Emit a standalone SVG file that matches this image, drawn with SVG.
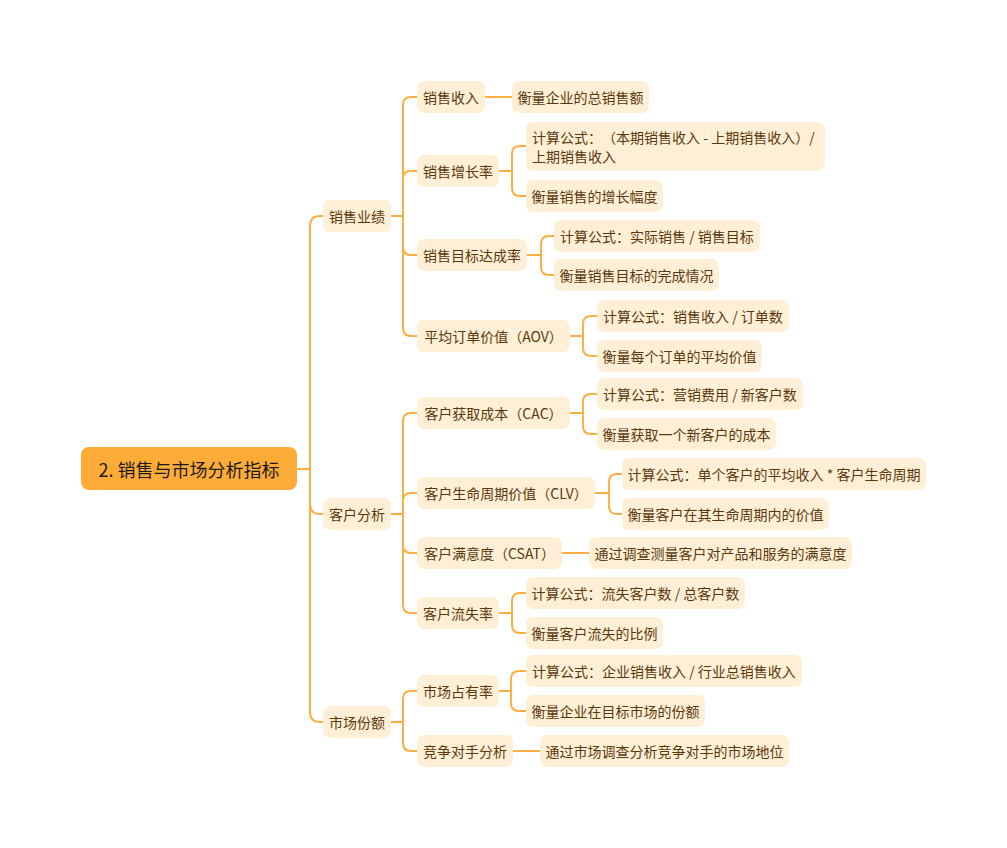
<svg xmlns="http://www.w3.org/2000/svg" width="1007" height="848" viewBox="0 0 1007 848">
<style>
.n rect{fill:#FFEFD6;}
.t{font-family:"Noto Sans CJK SC","Noto Sans",sans-serif;font-size:14px;fill:#5A380C;dominant-baseline:central;text-anchor:middle;text-spacing-trim:space-all;}
.tl{font-family:"Noto Sans CJK SC","Noto Sans",sans-serif;font-size:14px;fill:#5A380C;dominant-baseline:central;text-spacing-trim:space-all;}
.c path{stroke:#FFAE42;stroke-width:2;fill:none;stroke-linecap:round;}
</style>
<rect width="1007" height="848" fill="#ffffff"/>
<g class="c" id="connectors">
<path d="M297 469 H310 M310 469 V226 Q310 216 320 216 H324 M310 469 V504 Q310 514 320 514 H324 M310 469 V712 Q310 722 320 722 H324"/>
<path d="M391 216 H403 M403 216 V105 Q403 97 411 97 H417 M403 216 V179 Q403 171 411 171 H417 M403 216 V247 Q403 255 411 255 H417 M403 216 V328 Q403 336 411 336 H417"/>
<path d="M485 97 H512"/>
<path d="M499 171 H512 M512 171 V154 Q512 146 520 146 H526 M512 171 V188 Q512 196 520 196 H526"/>
<path d="M527 255 H541 M541 255 V244 Q541 236 549 236 H554 M541 255 V267 Q541 275 549 275 H554"/>
<path d="M570 336 H583 M583 336 V324 Q583 316 591 316 H597 M583 336 V348 Q583 356 591 356 H597"/>
<path d="M391 514 H403 M403 514 V421 Q403 413 411 413 H417 M403 514 V501 Q403 493 411 493 H417 M403 514 V545 Q403 553 411 553 H417 M403 514 V605 Q403 613 411 613 H417"/>
<path d="M570 413 H583 M583 413 V402 Q583 394 591 394 H597 M583 413 V426 Q583 434 591 434 H597"/>
<path d="M595 493 H609 M609 493 V482 Q609 474 617 474 H622 M609 493 V506 Q609 514 617 514 H622"/>
<path d="M562 553 H589"/>
<path d="M499 613 H512 M512 613 V601 Q512 593 520 593 H526 M512 613 V625 Q512 633 520 633 H526"/>
<path d="M391 722 H403 M403 722 V699 Q403 691 411 691 H417 M403 722 V743 Q403 751 411 751 H417"/>
<path d="M499 691 H511 M511 691 V679 Q511 671 519 671 H526 M511 691 V703 Q511 711 519 711 H526"/>
<path d="M513 751 H540"/>
</g>
<g id="root"><rect x="81" y="447" width="216" height="43" rx="8" fill="#FFAB38"/><text x="189" y="468.5" style="font-family:'Noto Sans CJK SC','Noto Sans',sans-serif;font-size:18px;fill:#1a1a1a;dominant-baseline:central;text-anchor:middle;">2. 销售与市场分析指标</text></g>
<g class="n" id="n1"><rect x="323" y="200" width="68" height="32" rx="7"/><text class="t" x="357" y="216">销售业绩</text></g>
<g class="n" id="n2"><rect x="323" y="498" width="68" height="32" rx="7"/><text class="t" x="357" y="514">客户分析</text></g>
<g class="n" id="n3"><rect x="323" y="706" width="68" height="32" rx="7"/><text class="t" x="357" y="722">市场份额</text></g>
<g class="n" id="n1a"><rect x="417" y="81" width="68" height="32" rx="7"/><text class="t" x="451" y="97">销售收入</text></g>
<g class="n" id="n1b"><rect x="417" y="155" width="82" height="32" rx="7"/><text class="t" x="458" y="171">销售增长率</text></g>
<g class="n" id="n1c"><rect x="417" y="239" width="110" height="32" rx="7"/><text class="t" x="472" y="255">销售目标达成率</text></g>
<g class="n" id="n1d"><rect x="417" y="320" width="153" height="32" rx="7"/><text class="t" x="493.5" y="336">平均订单价值（AOV）</text></g>
<g class="n" id="n2a"><rect x="417" y="397" width="153" height="32" rx="7"/><text class="t" x="493.5" y="413">客户获取成本（CAC）</text></g>
<g class="n" id="n2b"><rect x="417" y="477" width="178" height="32" rx="7"/><text class="t" x="506" y="493">客户生命周期价值（CLV）</text></g>
<g class="n" id="n2c"><rect x="417" y="537" width="145" height="32" rx="7"/><text class="t" x="489.5" y="553">客户满意度（CSAT）</text></g>
<g class="n" id="n2d"><rect x="417" y="597" width="82" height="32" rx="7"/><text class="t" x="458" y="613">客户流失率</text></g>
<g class="n" id="n3a"><rect x="417" y="675" width="82" height="32" rx="7"/><text class="t" x="458" y="691">市场占有率</text></g>
<g class="n" id="n3b"><rect x="417" y="735" width="96" height="32" rx="7"/><text class="t" x="465" y="751">竞争对手分析</text></g>
<g class="n" id="l1"><rect x="512" y="81" width="137" height="32" rx="7"/><text class="t" x="580.5" y="97">衡量企业的总销售额</text></g>
<g class="n" id="l2"><rect x="526" y="122" width="299" height="49" rx="7"/><text class="tl" x="532" y="137">计算公式：（本期销售收入 - 上期销售收入）/</text><text class="tl" x="532" y="156">上期销售收入</text></g>
<g class="n" id="l3"><rect x="526" y="180" width="137" height="32" rx="7"/><text class="t" x="594.5" y="196">衡量销售的增长幅度</text></g>
<g class="n" id="l4"><rect x="554" y="220" width="206" height="32" rx="7"/><text class="t" x="657" y="236">计算公式：实际销售 / 销售目标</text></g>
<g class="n" id="l5"><rect x="554" y="259" width="165" height="32" rx="7"/><text class="t" x="636.5" y="275">衡量销售目标的完成情况</text></g>
<g class="n" id="l6"><rect x="597" y="300" width="192" height="32" rx="7"/><text class="t" x="693" y="316">计算公式：销售收入 / 订单数</text></g>
<g class="n" id="l7"><rect x="597" y="340" width="165" height="32" rx="7"/><text class="t" x="679.5" y="356">衡量每个订单的平均价值</text></g>
<g class="n" id="l8"><rect x="597" y="378" width="206" height="32" rx="7"/><text class="t" x="700" y="394">计算公式：营销费用 / 新客户数</text></g>
<g class="n" id="l9"><rect x="597" y="418" width="179" height="32" rx="7"/><text class="t" x="686.5" y="434">衡量获取一个新客户的成本</text></g>
<g class="n" id="l10"><rect x="622" y="458" width="304" height="32" rx="7"/><text class="t" x="774" y="474">计算公式：单个客户的平均收入 * 客户生命周期</text></g>
<g class="n" id="l11"><rect x="622" y="498" width="207" height="32" rx="7"/><text class="t" x="725.5" y="514">衡量客户在其生命周期内的价值</text></g>
<g class="n" id="l12"><rect x="589" y="537" width="263" height="32" rx="7"/><text class="t" x="720.5" y="553">通过调查测量客户对产品和服务的满意度</text></g>
<g class="n" id="l13"><rect x="526" y="577" width="219" height="32" rx="7"/><text class="t" x="635.5" y="593">计算公式：流失客户数 / 总客户数</text></g>
<g class="n" id="l14"><rect x="526" y="617" width="137" height="32" rx="7"/><text class="t" x="594.5" y="633">衡量客户流失的比例</text></g>
<g class="n" id="l15"><rect x="526" y="655" width="276" height="32" rx="7"/><text class="t" x="664" y="671">计算公式：企业销售收入 / 行业总销售收入</text></g>
<g class="n" id="l16"><rect x="526" y="695" width="179" height="32" rx="7"/><text class="t" x="615.5" y="711">衡量企业在目标市场的份额</text></g>
<g class="n" id="l17"><rect x="540" y="735" width="249" height="32" rx="7"/><text class="t" x="664.5" y="751">通过市场调查分析竞争对手的市场地位</text></g>
</svg>
